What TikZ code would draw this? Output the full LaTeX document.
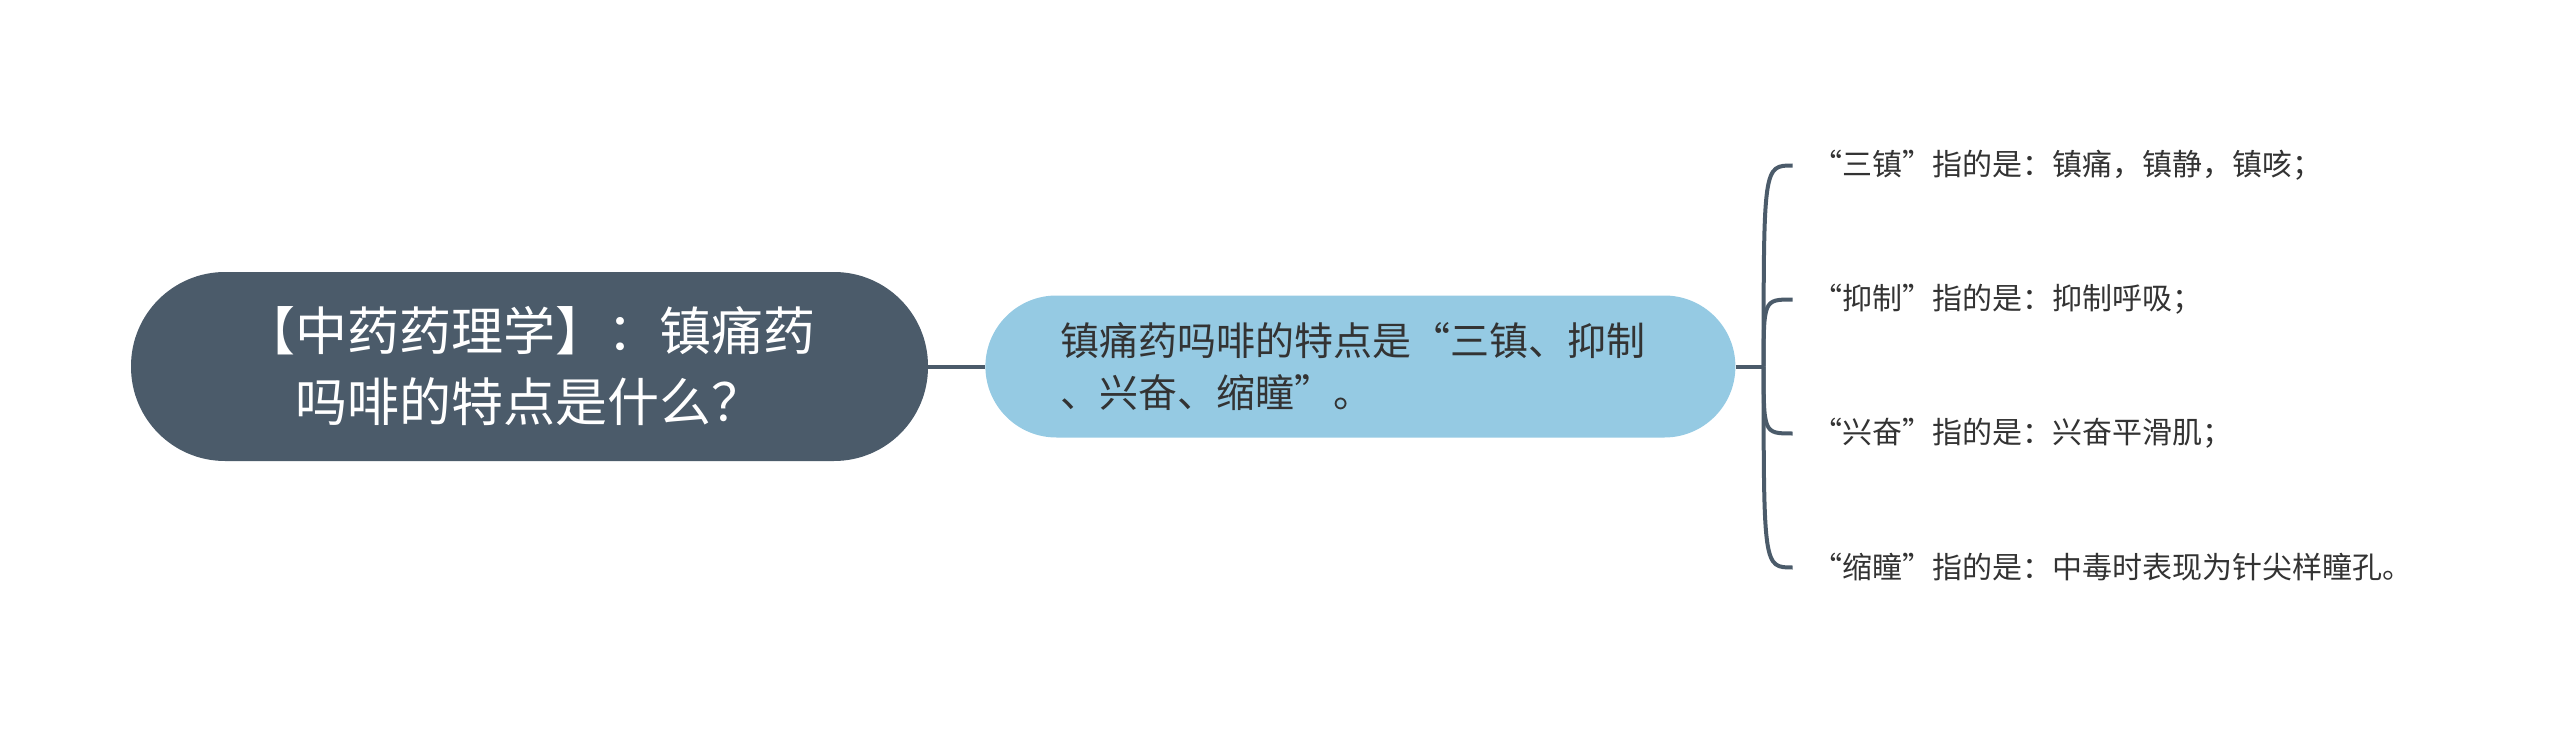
\documentclass[tikz,border=0pt]{standalone}
\usepackage{fontspec}
\setmainfont{Noto Sans CJK SC}
\usetikzlibrary{positioning}
\definecolor{slate}{HTML}{4B5B6A}
\definecolor{skyblue}{HTML}{95CAE3}
\definecolor{ink}{HTML}{333333}
\tikzstyle{topic} = [rectangle, fill=slate, text=white, rounded corners=94pt,
    minimum width=797pt, minimum height=189pt, align=center,
    font=\fontsize{52}{71}\selectfont]
\tikzstyle{subtopic} = [rectangle, fill=skyblue, text=ink, rounded corners=71pt,
    text width=600pt, inner xsep=75pt, minimum height=142pt, align=left,
    font=\fontsize{39}{52}\selectfont]
\tikzstyle{leaf} = [text=ink, inner xsep=20pt, font=\fontsize{30}{36}\selectfont]
\tikzstyle{link} = [draw=slate, line width=4pt]

\begin{document}
\begin{tikzpicture}[x=1pt,y=-1pt]
		\useasboundingbox (0,0) rectangle (2560,733);
		% Draw nodes
		\node [topic] (question) at (529.5,366.5) {【中药药理学】：镇痛药\\吗啡的特点是什么？};
		\node [subtopic, right=57pt of question] (answer) {镇痛药吗啡的特点是“三镇、抑制\\、兴奋、缩瞳”。};
		% Helper coordinate
		\coordinate [right=28pt of answer] (fork);
		% Leaves
		\node [leaf, right=29pt of fork, yshift=201pt] (sanzhen) {“三镇”指的是：镇痛，镇静，镇咳；};
		\node [leaf, right=29pt of fork, yshift=67pt] (yizhi) {“抑制”指的是：抑制呼吸；};
		\node [leaf, right=29pt of fork, yshift=-67pt] (xingfen) {“兴奋”指的是：兴奋平滑肌；};
		\node [leaf, right=29pt of fork, yshift=-201pt] (suotong) {“缩瞳”指的是：中毒时表现为针尖样瞳孔。};
		% Draw lines connecting
		\path [link] (question) -- (answer);
		\path [link] (answer) -- (fork);
		\path [link] (fork) .. controls (fork |- sanzhen.west) .. (sanzhen.west);
		\path [link] (fork) .. controls (fork |- yizhi.west) .. (yizhi.west);
		\path [link] (fork) .. controls (fork |- xingfen.west) .. (xingfen.west);
		\path [link] (fork) .. controls (fork |- suotong.west) .. (suotong.west);
	\end{tikzpicture}
\end{document}
